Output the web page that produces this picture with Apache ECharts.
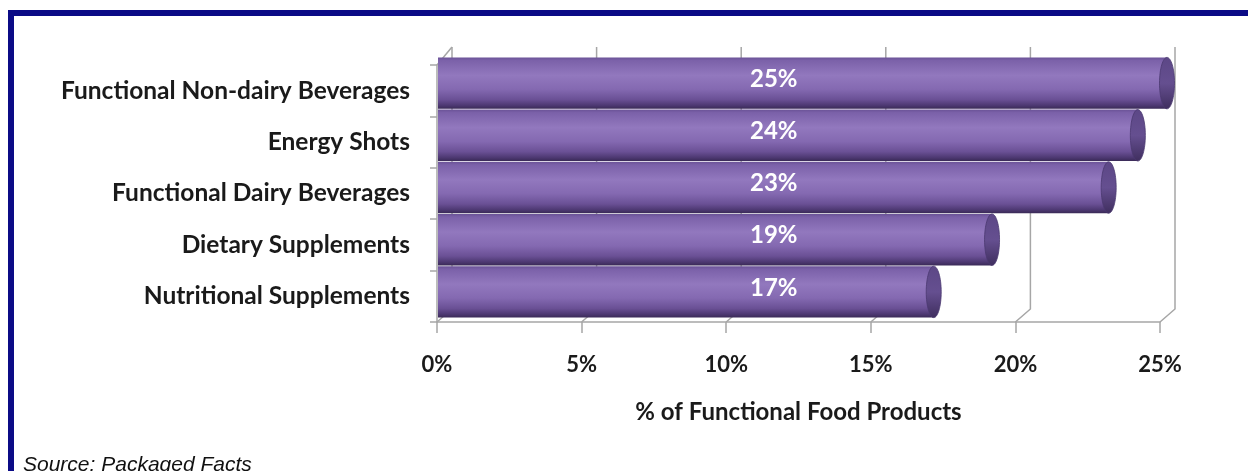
<!DOCTYPE html>
<html>
<head>
<meta charset="utf-8">
<script src="https://cdn.jsdelivr.net/npm/echarts@6/dist/echarts.min.js"></script>
<style>
  html, body { margin: 0; padding: 0; background: #fff; overflow: hidden; }
  #chart { width: 1248px; height: 471px; position: relative; }
  #frame { position: absolute; left: 8px; top: 10px; width: 1260px; height: 480px;
           border-top: 6px solid #0b0b86; border-left: 6px solid #0b0b86; pointer-events: none; box-sizing: border-box; }
  #source { position: absolute; left: 23px; top: 452px; font-family: "Liberation Sans", Arial, sans-serif;
            font-style: italic; font-size: 21px; line-height: 24px; color: #111; white-space: nowrap; }
</style>
</head>
<body>
<div id="chart"></div>
<div id="frame"></div>
<div id="source">Source: Packaged Facts</div>
<script>
const categories = [
  'Functional Non-dairy Beverages',
  'Energy Shots',
  'Functional Dairy Beverages',
  'Dietary Supplements',
  'Nutritional Supplements'
];
const shares = [25, 24, 23, 19, 17];
const tickValues = [0, 5, 10, 15, 20, 25];
const axisTitle = '% of Functional Food Products';

const LABEL_FONT = 'Lato, "Open Sans", sans-serif';
const GRID_COLOR = '#a6a6a6';
const DEPTH_X = 15, DEPTH_Y = 13;

const chart = echarts.init(document.getElementById('chart'), null, { renderer: 'canvas' });

const barData = shares.map((v, i) => [v, i]);

const option = {
  backgroundColor: '#ffffff',
  animation: false,
  grid: [
    { left: 437, top: 65, width: 723, height: 257 },
    { left: 438, top: 57, width: 729, height: 261 }
  ],
  xAxis: [
    {
      gridIndex: 0, type: 'value', min: 0, max: 25, interval: 5,
      axisLine: { show: true, lineStyle: { color: GRID_COLOR, width: 1.5 } },
      axisTick: { show: true, length: 11, lineStyle: { color: GRID_COLOR, width: 1.5 } },
      splitLine: { show: false },
      axisLabel: { margin: 32, formatter: '{value}%', fontFamily: LABEL_FONT, fontWeight: 'bold', fontSize: 22, color: '#1a1a1a' },
      name: axisTitle, nameLocation: 'middle', nameGap: 78,
      nameTextStyle: { fontFamily: LABEL_FONT, fontWeight: 'bold', fontSize: 24, color: '#1a1a1a' }
    },
    { gridIndex: 1, type: 'value', min: 0, max: 25, show: false }
  ],
  yAxis: [
    {
      gridIndex: 0, type: 'category', data: categories, inverse: true,
      axisLine: { show: true, lineStyle: { color: GRID_COLOR, width: 1.5 } },
      axisTick: { show: true, length: 7, alignWithLabel: false, lineStyle: { color: GRID_COLOR, width: 1.5 } },
      axisLabel: { margin: 27, fontFamily: LABEL_FONT, fontWeight: 'bold', fontSize: 24.5, color: '#1a1a1a' }
    },
    { gridIndex: 1, type: 'category', data: categories, inverse: true, show: false }
  ],
  series: [
    {
      type: 'custom', xAxisIndex: 0, yAxisIndex: 0, z: 1, silent: true,
      data: tickValues.map(v => [v, 0]),
      renderItem: function (params, api) {
        const cs = params.coordSys;
        const xf = api.coord([api.value(0), 0])[0];
        const yB = cs.y + cs.height, yT = cs.y;
        const children = [{
          type: 'polyline',
          shape: { points: [[xf, yB], [xf + DEPTH_X, yB - DEPTH_Y], [xf + DEPTH_X, yT - DEPTH_Y - 5]] },
          style: { stroke: GRID_COLOR, lineWidth: 1.5, fill: null }
        }];
        if (api.value(0) === 0) {
          children.push({
            type: 'line',
            shape: { x1: xf, y1: yT, x2: xf + DEPTH_X, y2: yT - DEPTH_Y - 5 },
            style: { stroke: GRID_COLOR, lineWidth: 1.5 }
          });
        }
        return { type: 'group', children: children };
      }
    },
    {
      type: 'custom', xAxisIndex: 1, yAxisIndex: 1, z: 3, silent: true,
      data: barData,
      encode: { x: 0, y: 1 },
      renderItem: function (params, api) {
        const v = api.value(0), c = api.value(1);
        const start = api.coord([0, c]);
        const end = api.coord([v, c]);
        const h = api.size([0, 1])[1] * 0.985;
        const top = start[1] - h / 2;
        const bodyGrad = new echarts.graphic.LinearGradient(0, 0, 0, 1, [
          { offset: 0, color: '#6a5296' },
          { offset: 0.06, color: '#7b61a9' },
          { offset: 0.35, color: '#9278be' },
          { offset: 0.62, color: '#8469b1' },
          { offset: 0.82, color: '#6a5095' },
          { offset: 0.93, color: '#4e3973' },
          { offset: 1, color: '#3a2a57' }
        ]);
        const capGrad = new echarts.graphic.LinearGradient(0, 0, 0, 1, [
          { offset: 0, color: '#5c4786' },
          { offset: 0.5, color: '#654f90' },
          { offset: 1, color: '#3f2e5e' }
        ]);
        return {
          type: 'group',
          children: [
            { type: 'rect', shape: { x: start[0], y: top, width: end[0] - start[0], height: h }, style: { fill: bodyGrad } },
            { type: 'ellipse', shape: { cx: end[0], cy: end[1], rx: 7.5, ry: h / 2 }, style: { fill: capGrad, stroke: '#4a3870', lineWidth: 0.8 } },
            { type: 'text', style: {
                x: start[0] + 312, y: start[1] - 4, text: v + '%',
                fill: '#ffffff', font: 'bold 24px ' + LABEL_FONT,
                textAlign: 'left', textVerticalAlign: 'middle'
              } }
          ]
        };
      }
    }
  ]
};

chart.setOption(option);
</script>
</body>
</html>
